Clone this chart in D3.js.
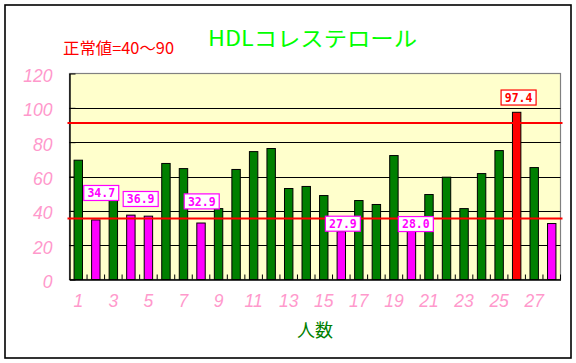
<!DOCTYPE html>
<html>
<head>
<meta charset="utf-8">
<script src="https://cdn.jsdelivr.net/npm/d3@7"></script>
<style>
  body { margin: 0; background: #ffffff; }
  svg { display: block; }
</style>
</head>
<body>
<svg id="chart"></svg>
<script>
const width = 576;
const height = 363;

// data
const categories = [1, 2, 3, 4, 5, 6, 7, 8, 9, 10, 11, 12, 13, 14, 15, 16, 17, 18, 19, 20, 21, 22, 23, 24, 25, 26, 27, 28];
const values = [69.5, 34.7, 47, 37.5, 36.9, 67.6, 64.6, 32.9, 41.3, 64.1, 74.5, 76.3, 53.0, 54.2, 48.9, 27.9,
                46.0, 43.7, 72.2, 28.0, 49.5, 59.6, 41.3, 61.7, 75.1, 97.4, 65.2, 32.6];
const yTicks = [0, 20, 40, 60, 80, 100, 120];
const normalLow = 40;
const normalHigh = 90;
const refLines = [91.2, 35.6];          // red lines as drawn in the picture
// value callouts: category number, text, anchor (category units, value units)
const calloutCats = [2, 5, 8, 16, 20, 26];
const calloutX = [2.31, 4.56, 8.04, 16.09, 20.25, 26.11];
const calloutY = [50.4, 46.9, 45.5, 32.5, 32.3, 106.0];

const titleText = "HDLコレステロール";
const noteText = "正常値=40～90";
const xTitle = "人数";

const plot = { left: 69.5, right: 560.5, top: 73.5, bottom: 279.5 };

const svg = d3.select("#chart")
    .attr("width", width)
    .attr("height", height)
    .attr("viewBox", [0, 0, width, height]);

const x = d3.scaleBand()
    .domain(categories)
    .range([plot.left, plot.right])
    .paddingInner(0.52)
    .paddingOuter(0.26);

// category number -> pixel (centre of category n at n)
const xc = d3.scaleLinear()
    .domain([0.5, categories.length + 0.5])
    .range([plot.left, plot.right]);

const y = d3.scaleLinear()
    .domain([0, 120])
    .range([plot.bottom, plot.top]);

const barColor = v => v > normalHigh ? "#ff0000" : (v < normalLow ? "#ff00ff" : "#008000");

// outer frame
svg.append("rect")
    .attr("x", 5).attr("y", 5)
    .attr("width", 566).attr("height", 353)
    .attr("fill", "none")
    .attr("stroke", "#000")
    .attr("stroke-width", 1.6);

// plot background
svg.append("rect")
    .attr("x", plot.left).attr("y", plot.top)
    .attr("width", plot.right - plot.left)
    .attr("height", plot.bottom - plot.top)
    .attr("fill", "#ffffcc")
    .attr("stroke", "#808080")
    .attr("stroke-width", 1.2);

// gridlines
svg.selectAll("line.grid")
    .data(yTicks.filter(d => d > 0 && d < 120))
    .enter().append("line")
    .attr("class", "grid")
    .attr("x1", plot.left).attr("x2", plot.right)
    .attr("y1", d => Math.round(y(d)) + 0.5)
    .attr("y2", d => Math.round(y(d)) + 0.5)
    .attr("stroke", "#000")
    .attr("stroke-width", 1);

// y axis
const yAxis = svg.append("g")
    .attr("transform", `translate(${plot.left},0)`)
    .call(d3.axisLeft(y).tickValues(yTicks).tickSizeInner(-6).tickSizeOuter(0).tickPadding(17));
yAxis.select(".domain").attr("stroke", "#000").attr("stroke-width", 1.4);
yAxis.selectAll(".tick line").attr("stroke", "#000");
yAxis.selectAll(".tick text")
    .attr("dy", "0.45em")
    .attr("font-family", "'Liberation Sans', Arial, sans-serif")
    .attr("font-style", "italic")
    .attr("font-size", 17.5)
    .attr("fill", "#ff99cc");

// bars
svg.selectAll("rect.bar")
    .data(values)
    .enter().append("rect")
    .attr("class", "bar")
    .attr("x", (d, i) => x(categories[i]))
    .attr("y", d => y(d))
    .attr("width", x.bandwidth())
    .attr("height", d => y(0) - y(d))
    .attr("fill", d => barColor(d))
    .attr("stroke", "#000")
    .attr("stroke-width", 1);

// x axis: ticks on the category boundaries, pointing inward
svg.selectAll("line.xtick")
    .data(categories)
    .enter().append("line")
    .attr("class", "xtick")
    .attr("x1", d => xc(d + 0.5)).attr("x2", d => xc(d + 0.5))
    .attr("y1", plot.bottom).attr("y2", plot.bottom - 5)
    .attr("stroke", "#000");

const xAxis = svg.append("g")
    .attr("transform", `translate(0,${plot.bottom})`)
    .call(d3.axisBottom(x).tickSize(0).tickPadding(15).tickFormat(d => d % 2 === 1 ? d : ""));
xAxis.select(".domain").attr("stroke", "#000").attr("stroke-width", 1.6);
xAxis.selectAll(".tick text")
    .attr("font-family", "'Liberation Sans', Arial, sans-serif")
    .attr("font-style", "italic")
    .attr("font-size", 17.5)
    .attr("fill", "#ff99cc");

// reference lines
svg.selectAll("line.ref")
    .data(refLines)
    .enter().append("line")
    .attr("class", "ref")
    .attr("x1", plot.left - 2).attr("x2", plot.right + 2)
    .attr("y1", d => y(d)).attr("y2", d => y(d))
    .attr("stroke", "#ff0000")
    .attr("stroke-width", 2);

// value callouts
const callouts = svg.selectAll("g.callout")
    .data(calloutCats)
    .enter().append("g")
    .attr("class", "callout")
    .attr("transform", (d, i) => `translate(${xc(calloutX[i])},${y(calloutY[i])})`);

callouts.append("rect")
    .attr("x", -17.5).attr("y", -7.5)
    .attr("width", 35).attr("height", 15)
    .attr("fill", "#fff")
    .attr("stroke", d => barColor(values[d - 1]))
    .attr("stroke-width", 1.2);

callouts.append("text")
    .attr("text-anchor", "middle")
    .attr("dy", "0.38em")
    .attr("font-family", "'DejaVu Sans Mono', monospace")
    .attr("font-weight", "bold")
    .attr("font-size", 11.5)
    .attr("fill", d => barColor(values[d - 1]))
    .text(d => values[d - 1].toFixed(1));

// titles
svg.append("text")
    .attr("x", 312.5).attr("y", 46)
    .attr("text-anchor", "middle")
    .attr("font-family", "'Noto Sans CJK JP', sans-serif")
    .attr("font-size", 21)
    .attr("textLength", 209)
    .attr("lengthAdjust", "spacingAndGlyphs")
    .attr("fill", "#00ff00")
    .text(titleText);

svg.append("text")
    .attr("x", 63).attr("y", 54)
    .attr("font-family", "'Noto Sans CJK JP', sans-serif")
    .attr("font-size", 16)
    .attr("textLength", 111)
    .attr("lengthAdjust", "spacingAndGlyphs")
    .attr("fill", "#ff0000")
    .text(noteText);

svg.append("text")
    .attr("x", (plot.left + plot.right) / 2).attr("y", 337)
    .attr("text-anchor", "middle")
    .attr("font-family", "'Noto Sans CJK JP', sans-serif")
    .attr("font-size", 18)
    .attr("fill", "#008000")
    .text(xTitle);
</script>
</body>
</html>
